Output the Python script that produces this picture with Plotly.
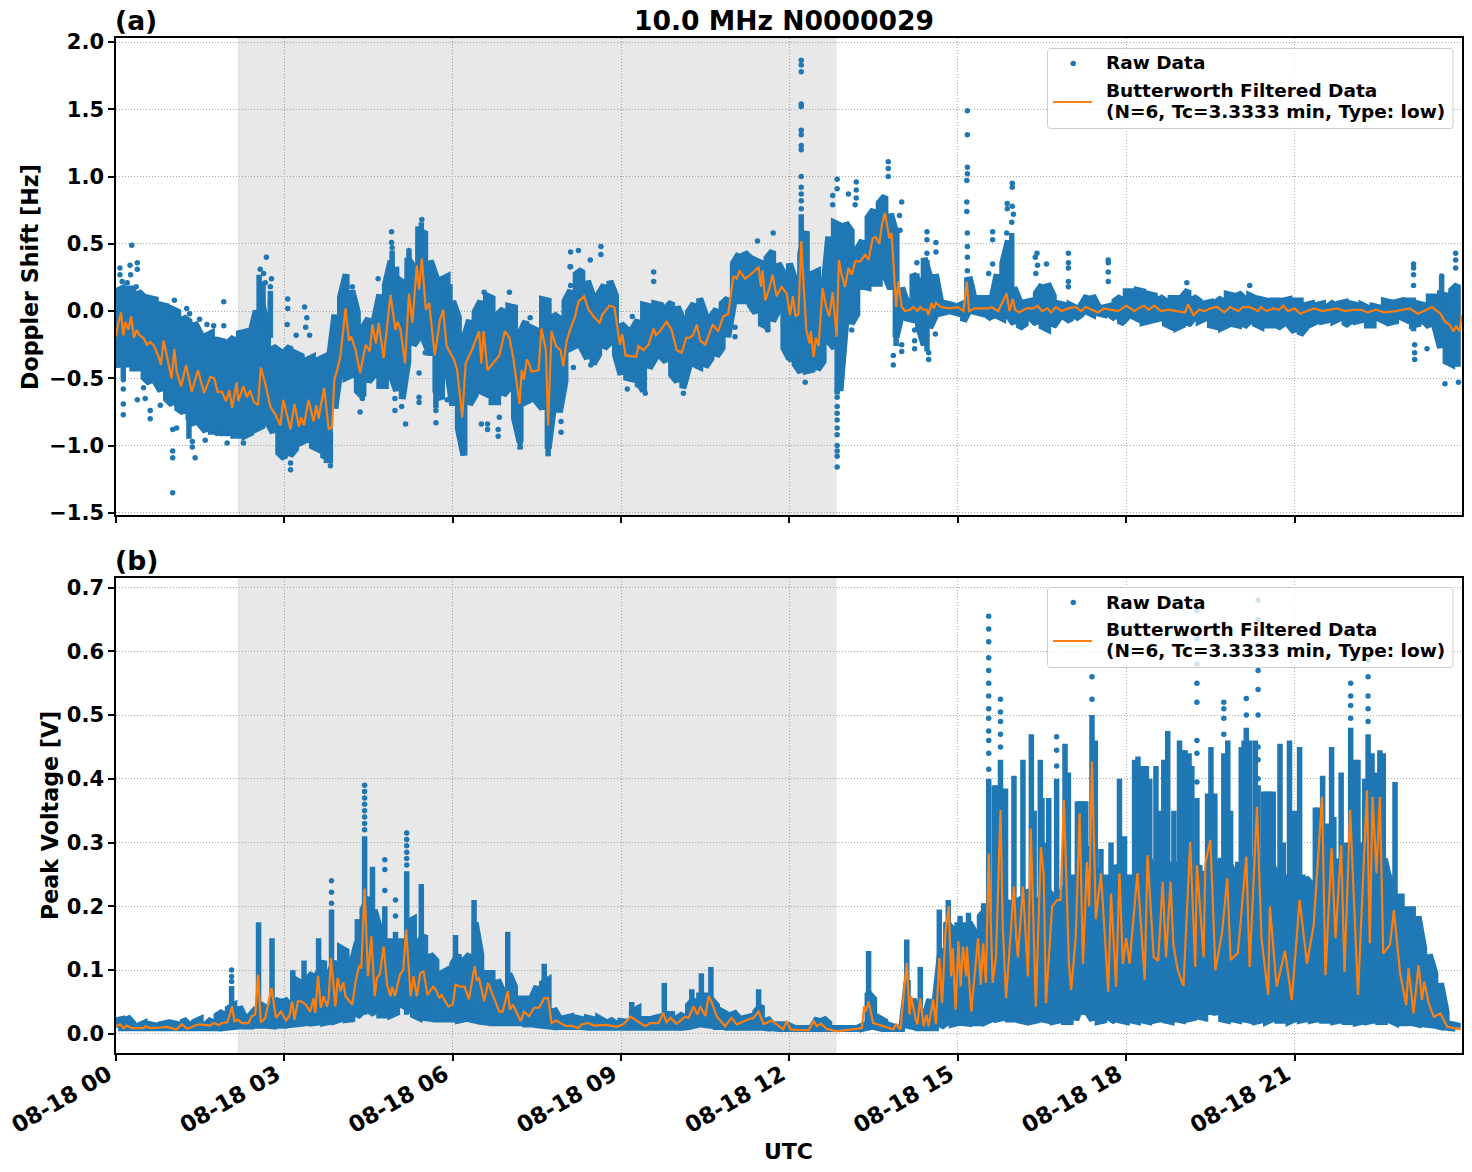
import pandas as pd
import plotly.graph_objects as go

DAY = "2023-08-18"
BLUE = "#1f77b4"
ORANGE = "#ff7f0e"
FONT = "DejaVu Sans"
NIGHT_START = 2.174
NIGHT_END = 12.83
TITLE = "10.0 MHz N0000029"
RAW_NAME = "Raw Data"
FILT_LINE_1 = "Butterworth Filtered Data"
FILT_LINE_2 = "(N=6, Tc=3.3333 min, Type: low)"

# Doppler shift: spread of the raw samples per 6 minute bin, from 00:00
DOPPLER_HI = [
    .17,.19,.19,.19,.17,.13,.12,.11,.07,.06,
    .04,.02,-.02,-.05,-.06,-.14,-.16,-.14,-.19,-.20,
    -.21,-.17,-.14,-.13,-.14,.03,.08,-.08,-.24,-.27,
    -.28,-.24,-.29,-.31,-.34,-.32,-.34,-.32,-.34,.00,
    .13,.30,.18,.02,-.10,-.03,-.05,.15,.22,.40,
    .27,.24,.42,.35,.58,.62,.40,.28,.26,.28,
    .10,-.02,-.18,-.04,.02,.10,.14,.12,.00,.04,
    .06,.05,-.14,-.05,-.10,-.12,.11,.10,.00,-.03,
    .10,.18,.30,.33,.25,.13,.15,.22,.25,.14,
    -.07,-.11,-.11,-.04,.07,.06,.08,.07,.05,.09,
    .06,-.04,.02,.08,.12,.00,-.02,.04,.08,.12,
    .38,.45,.46,.42,.40,.38,.42,.47,.38,.30,
    .38,.25,.45,.62,.30,.32,.15,.58,.68,.66,
    .68,.62,.48,.55,.72,.78,.83,.88,.75,.60,
    .20,.08,.30,.25,.42,.28,.30,.08,.08,.07,
    .06,.08,.28,.10,.12,.12,.10,.30,.38,.55,
    .20,.10,.09,.10,.16,.22,.23,.14,.08,.07,
    .07,.05,.07,.14,.14,.06,.05,.06,.10,.13,
    .17,.17,.18,.17,.15,.14,.13,.10,.12,.12,
    .13,.18,.13,.10,.08,.09,.09,.12,.15,.14,
    .16,.12,.14,.12,.11,.10,.10,.10,.10,.11,
    .10,.10,.07,.08,.07,.08,.06,.09,.08,.09,
    .08,.07,.07,.05,.06,.05,.10,.09,.09,.10,
    .10,.10,.08,.07,.13,.13,.15,.14,.18,.22,
]
DOPPLER_LO = [
    -.45,-.42,-.42,-.45,-.45,-.52,-.56,-.55,-.62,-.68,
    -.72,-.75,-.78,-.82,-.87,-.87,-.92,-.92,-.92,-.93,
    -.93,-.95,-.95,-.95,-.93,-.90,-.88,-.85,-.93,-1.08,
    -1.12,-1.10,-1.05,-1.00,-.98,-1.03,-1.05,-1.10,-1.12,-.75,
    -.44,-.52,-.50,-.62,-.66,-.55,-.50,-.58,-.58,-.50,
    -.62,-.68,-.40,-.28,-.22,-.25,-.35,-.62,-.68,-.45,
    -.73,-.90,-1.10,-.72,-.65,-.62,-.64,-.70,-.70,-.65,
    -.60,-.82,-1.00,-.70,-.68,-.70,-.75,-1.05,-.72,-.78,
    -.55,-.30,-.28,-.30,-.38,-.42,-.35,-.30,-.26,-.35,
    -.50,-.52,-.53,-.55,-.62,-.45,-.38,-.36,-.40,-.50,
    -.55,-.60,-.45,-.42,-.44,-.44,-.38,-.36,-.30,-.22,
    .02,.05,.05,.02,-.04,-.12,-.14,-.10,-.02,-.30,
    -.38,-.42,-.48,-.47,-.46,-.46,-.40,-.25,-.30,-.62,
    -.12,-.12,-.05,.16,.15,.18,.18,.24,.14,-.22,
    -.04,-.08,-.09,-.14,-.28,-.15,-.06,-.04,-.03,-.03,
    -.04,-.10,-.02,-.03,-.04,-.05,-.08,-.06,-.08,-.06,
    -.12,-.15,-.12,-.08,-.12,-.14,-.16,-.14,-.08,-.07,
    -.10,-.08,-.05,-.03,-.05,-.04,-.05,-.05,-.08,-.12,
    -.08,-.06,-.08,-.11,-.10,-.09,-.08,-.12,-.14,-.15,
    -.13,-.13,-.08,-.10,-.08,-.13,-.14,-.15,-.13,-.12,
    -.13,-.14,-.10,-.12,-.14,-.13,-.13,-.15,-.12,-.13,
    -.18,-.20,-.15,-.12,-.10,-.10,-.09,-.10,-.08,-.13,
    -.10,-.10,-.09,-.13,-.13,-.08,-.10,-.11,-.10,-.07,
    -.09,-.13,-.12,-.10,-.14,-.14,-.30,-.40,-.42,-.44,
]

# Short Doppler excursions that stick out of the spread
FINGER_T = [
    .13,1.30,2.55,2.62,2.75,3.75,3.82,4.92,5.00,5.22,5.38,5.44,5.50,5.70,5.95,7.20,7.70,
    12.21,12.85,13.90,14.27,14.45,14.45,15.16,15.88,15.96,23.12,23.62,
]
FINGER_FROM = [
    -.40,-.80,-.10,-.10,-.20,-.90,-.90,-.10,-.10,.00,.10,.10,.00,-.50,-.20,-.70,-.70,
    -.10,-.20,-.10,.00,.00,-.10,.00,.00,.00,-.10,.00,
]
FINGER_TO = [
    -.50,-.95,.27,.22,.15,-1.13,-1.13,.45,.33,.44,.63,.66,.58,-.72,.20,-1.03,-1.08,
    .72,-.62,-.26,.28,.38,-.30,.25,.50,.58,-.15,.26,
]

# Isolated Doppler samples outside the main spread
DOPPLER_OUT_T = [
    .07,.07,.11,.25,.26,.28,.38,.38,.20,.36,.13,.13,.13,.13,.49,.52,.38,.61,.61,.79,
    1.04,1.10,1.26,1.31,1.49,1.62,1.74,1.92,1.92,1.01,1.01,1.01,1.01,1.08,1.36,1.36,1.41,1.59,1.80,1.98,
    2.27,2.68,2.57,2.63,2.77,2.66,2.75,2.60,2.75,3.06,3.06,3.36,3.05,3.40,3.38,3.45,3.21,3.82,3.11,3.11,
    4.35,4.39,4.67,4.21,4.91,4.91,4.92,5.22,5.45,5.40,5.40,5.40,4.97,4.97,5.09,5.16,5.51,5.70,5.70,5.90,
    6.51,6.62,6.62,6.81,6.81,6.83,7.01,7.38,6.56,7.93,7.93,8.10,8.10,8.10,
    8.24,8.64,8.64,8.45,8.09,9.58,9.58,9.20,9.11,9.29,9.43,10.11,11.03,11.03,11.71,11.43,12.28,11.61,12.01,12.10,8.46,8.15,
    12.21,12.21,12.21,12.21,12.21,12.21,12.21,12.21,12.21,12.21,12.21,12.21,12.21,12.21,
    12.85,12.85,12.85,12.85,12.85,12.85,12.85,12.85,12.85,12.85,12.85,12.85,12.85,
    12.77,12.77,13.05,13.19,13.19,13.19,13.17,13.76,13.76,13.76,14.00,13.96,13.97,13.85,13.85,14.00,14.00,
    14.23,14.23,14.23,14.36,14.45,14.45,14.61,14.61,14.27,14.45,14.48,14.48,14.60,12.98,13.11,
    15.17,15.17,15.17,15.17,15.16,15.16,15.16,15.17,15.17,15.17,15.17,15.62,15.62,15.62,15.55,
    15.88,15.88,15.97,15.97,15.97,15.99,15.96,15.87,15.96,15.87,
    16.41,16.38,16.42,16.39,16.58,16.97,16.97,16.97,16.97,16.97,17.68,17.68,17.68,17.68,19.08,20.20,
    23.12,23.12,23.12,23.12,23.14,23.14,23.14,23.36,23.62,23.87,23.87,23.87,23.68,23.92,
]
DOPPLER_OUT_V = [
    .32,.27,.22,.34,.27,.49,.36,.31,.21,.18,-.51,-.58,-.69,-.77,-.57,-.65,-.66,-.74,-.80,-.70,
    .08,-.04,.02,-.02,-.06,-.10,-.11,.07,-.11,-.88,-1.04,-1.09,-1.35,-.87,-.97,-1.01,-1.09,-.96,-.91,-.98,
    -.98,.40,.31,.28,.24,.21,.18,.09,.06,.09,.02,.03,-.10,-.05,-.12,-.18,-.18,-1.15,-1.13,-1.18,
    -.75,-.65,.24,.18,.59,.51,.47,.45,.68,-.46,-.64,-.68,-.65,-.74,-.71,-.84,-.31,-.83,-.74,-.66,
    -.84,-.84,-.88,-.88,-.93,-.79,.14,-.05,.14,-.90,-.82,.44,.33,.19,
    .45,.48,.42,.38,.33,.29,.22,-.04,-.58,-.55,-.61,-.61,-.12,-.19,.58,.52,-.53,-.14,-.36,-.36,-.40,-.42,
    1.865,1.83,1.78,1.54,1.52,1.345,1.31,1.23,1.20,1.00,.92,.87,.82,.76,
    .98,.91,-.59,-.64,-.71,-.76,-.81,-.87,-.92,-1.00,-1.04,-1.08,-1.16,
    .86,.79,.87,.96,.90,.84,.79,1.11,1.06,1.00,.81,.71,.60,-.33,-.40,-.25,-.30,
    -.14,-.22,-.28,-.18,.59,.53,.51,.44,.36,.43,-.36,-.31,-.17,-.15,-.14,
    1.49,1.31,1.07,1.02,.97,.81,.74,.58,.48,.40,.30,.59,.53,.35,.28,
    .80,.76,.95,.92,.78,.72,.66,.58,.50,.40,
    .43,.40,.34,.28,.35,.43,.36,.32,.22,.18,.38,.36,.29,.22,.21,.19,
    .35,.32,.27,.19,-.25,-.31,-.36,-.28,.26,.43,.38,.32,-.54,-.53,
]

# Low-pass filtered Doppler shift
DOPPLER_FILT_T = [
    0,.04,.09,.13,.17,.22,.27,.32,.37,.42,.49,.55,.61,.68,.76,.80,.85,.92,.99,1.04,1.08,1.16,1.25,1.35,1.46,1.57,1.68,1.75,1.81,1.89,1.96,
    2.02,2.07,2.15,2.18,2.27,2.33,2.39,2.45,2.53,2.58,2.66,2.75,2.84,2.93,2.98,3.05,3.11,3.18,3.26,3.30,3.35,3.43,3.52,3.57,3.61,3.65,3.71,3.79,3.85,3.89,3.94,
    4.00,4.09,4.15,4.19,4.27,4.35,4.45,4.52,4.57,4.63,4.68,4.77,4.89,4.98,5.02,5.07,5.15,5.22,5.28,5.36,5.40,5.45,5.52,5.58,5.68,5.77,5.83,5.89,
    6.02,6.08,6.17,6.23,6.35,6.47,6.51,6.55,6.62,6.71,6.83,6.93,7.01,7.08,7.14,7.19,7.23,7.27,7.32,7.36,7.40,7.53,7.58,7.66,7.70,7.76,7.84,7.92,7.97,
    8.03,8.09,8.18,8.24,8.34,8.42,8.51,8.62,8.66,8.79,8.88,8.98,9.02,9.08,9.27,9.31,9.40,9.49,9.58,9.62,9.69,9.81,9.90,9.99,
    10.08,10.16,10.21,10.28,10.35,10.41,10.50,10.56,10.63,10.73,10.82,10.91,11.00,11.06,11.11,11.21,11.27,11.36,11.45,11.49,11.52,11.57,11.64,11.70,11.77,11.86,11.95,
    12.01,12.06,12.11,12.16,12.21,12.25,12.30,12.36,12.38,12.43,12.47,12.52,12.59,12.66,12.71,12.77,12.84,12.88,12.93,12.99,13.05,13.11,13.17,13.26,13.35,13.41,13.48,13.54,13.60,13.65,13.70,13.78,13.82,13.90,13.94,
    14.00,14.06,14.15,14.21,14.28,14.33,14.38,14.44,14.48,14.53,14.57,14.61,14.70,14.85,15.00,15.10,15.16,15.20,15.30,15.55,15.60,15.72,15.87,15.92,15.98,16.02,16.10,
    16.22,16.35,16.42,16.50,16.60,16.66,16.75,16.85,16.97,17.10,17.20,17.28,17.40,17.50,17.60,17.72,17.85,18.00,18.15,18.22,18.32,18.40,18.50,18.62,18.75,18.90,19.05,19.10,19.20,19.30,19.40,19.50,19.62,
    19.75,19.85,20.00,20.08,20.20,20.35,20.40,20.50,20.62,20.72,20.80,20.88,21.00,21.10,21.22,21.35,21.50,21.62,21.75,21.90,22.05,22.18,22.30,22.45,22.60,22.80,22.92,23.05,23.20,23.35,23.45,23.60,23.68,23.76,23.83,23.88,23.94,23.98,
]
DOPPLER_FILT_V = [
    -.19,-.09,-.01,-.18,-.08,-.14,-.04,-.20,-.14,-.18,-.20,-.25,-.23,-.26,-.34,-.40,-.22,-.35,-.50,-.28,-.45,-.56,-.40,-.60,-.44,-.61,-.49,-.50,-.60,-.60,-.67,
    -.59,-.72,-.53,-.67,-.56,-.64,-.59,-.67,-.70,-.42,-.54,-.71,-.77,-.85,-.66,-.79,-.88,-.69,-.86,-.79,-.85,-.66,-.82,-.70,-.80,-.70,-.57,-.88,-.86,-.51,-.44,
    -.33,.02,-.22,-.19,-.29,-.46,-.25,-.30,-.10,-.24,-.09,-.35,.12,-.14,-.08,-.14,-.39,.13,-.09,.34,.16,.39,.01,.06,-.33,-.07,.01,-.26,
    -.36,-.44,-.79,-.39,-.28,-.15,-.39,-.15,-.44,-.39,-.33,-.15,-.20,-.35,-.54,-.69,-.44,-.51,-.36,-.39,-.45,-.44,-.13,-.29,-.85,-.15,-.26,-.29,-.41,
    -.22,-.14,-.04,.07,.11,.01,-.04,-.09,-.03,.04,.03,-.25,-.17,-.33,-.34,-.26,-.29,-.25,-.13,-.18,-.15,-.08,-.14,-.29,
    -.31,-.20,-.20,-.18,-.10,-.22,-.25,-.18,-.10,-.15,-.04,-.02,.26,.24,.30,.24,.26,.29,.33,.18,.30,.08,.17,.27,.11,.18,.13,
    -.03,.11,-.04,-.02,.52,.21,-.14,-.24,-.15,-.34,-.20,-.26,.17,.02,-.04,.14,-.19,.38,.27,.18,.32,.27,.37,.37,.42,.38,.54,.55,.50,.65,.73,.54,.58,.03,.22,
    .03,.00,.01,.03,.00,.03,.01,.01,-.03,.06,.02,.06,.03,.02,.03,.00,.22,.00,.02,.02,.03,.00,.13,.00,.09,.01,-.01,
    .02,.02,.04,.00,.02,-.01,.03,.00,.02,.03,.00,.03,.01,-.01,.02,.01,.00,.04,.00,.02,.04,.01,.04,.00,.01,.00,-.01,.05,-.03,.01,.00,.02,.03,
    -.01,.03,.00,.03,.03,.00,.03,.00,.02,.01,.04,.00,.02,-.02,.00,.02,.00,.01,.02,.00,.01,.01,-.01,.01,-.01,.00,.01,.02,-.02,.01,.03,-.02,-.08,-.10,-.15,-.11,-.15,-.03,
]

# Peak voltage: spread of the raw samples per 6 minute bin, from 00:00
VOLTAGE_HI = [
    .026,.028,.032,.022,.018,.022,.020,.018,.020,.022,
    .022,.020,.028,.020,.024,.028,.020,.028,.034,.040,
    .045,.050,.048,.030,.035,.045,.050,.045,.050,.060,
    .060,.050,.090,.085,.090,.100,.100,.120,.100,.120,
    .140,.135,.115,.150,.200,.220,.200,.170,.150,.150,
    .150,.150,.180,.185,.150,.160,.130,.120,.100,.105,
    .115,.130,.120,.130,.180,.130,.100,.100,.090,.070,
    .100,.080,.060,.060,.060,.080,.085,.090,.045,.030,
    .030,.032,.030,.028,.030,.028,.030,.025,.028,.022,
    .025,.024,.040,.045,.028,.028,.030,.032,.036,.036,
    .030,.036,.050,.060,.065,.065,.060,.050,.040,.035,
    .040,.030,.030,.032,.040,.050,.030,.020,.020,.020,
    .018,.014,.014,.014,.016,.030,.030,.022,.012,.012,
    .012,.012,.014,.018,.070,.060,.030,.025,.018,.015,
    .012,.090,.060,.040,.030,.060,.060,.140,.180,.170,
    .175,.175,.180,.165,.190,.200,.190,.190,.200,.215,
    .210,.215,.230,.220,.210,.220,.230,.220,.220,.235,
    .250,.250,.280,.300,.280,.250,.250,.250,.270,.250,
    .250,.250,.260,.260,.280,.260,.270,.270,.270,.270,
    .260,.270,.250,.270,.260,.250,.260,.280,.280,.260,
    .270,.270,.280,.270,.280,.270,.270,.250,.250,.250,
    .260,.240,.250,.240,.250,.250,.270,.280,.280,.260,
    .270,.260,.300,.300,.290,.290,.280,.240,.220,.220,
    .200,.200,.190,.140,.130,.100,.085,.040,.020,.018,
]
VOLTAGE_LO = [
    .004,.004,.004,.004,.004,.004,.004,.004,.004,.004,
    .004,.004,.004,.004,.004,.004,.004,.004,.004,.004,
    .005,.006,.007,.007,.007,.008,.008,.008,.007,.008,
    .008,.009,.010,.011,.012,.012,.013,.012,.014,.015,
    .018,.017,.018,.022,.030,.032,.026,.024,.024,.024,
    .028,.040,.035,.024,.020,.020,.019,.018,.018,.018,
    .018,.016,.018,.018,.016,.014,.013,.012,.012,.012,
    .012,.012,.012,.010,.010,.009,.008,.007,.006,.006,
    .006,.006,.006,.006,.005,.005,.005,.005,.005,.005,
    .005,.005,.005,.005,.005,.005,.005,.005,.005,.005,
    .005,.005,.006,.008,.010,.009,.008,.006,.006,.005,
    .005,.005,.005,.005,.005,.005,.004,.004,.003,.003,
    .003,.003,.003,.003,.003,.003,.003,.003,.003,.003,
    .003,.003,.003,.003,.005,.006,.004,.003,.003,.003,
    .003,.008,.006,.004,.004,.004,.004,.006,.012,.010,
    .012,.012,.011,.012,.012,.014,.018,.018,.020,.018,
    .018,.016,.014,.014,.016,.018,.016,.014,.016,.014,
    .014,.016,.040,.030,.016,.014,.016,.020,.014,.016,
    .014,.016,.014,.016,.014,.016,.018,.016,.014,.018,
    .016,.018,.020,.022,.020,.060,.024,.018,.016,.018,
    .016,.018,.016,.014,.016,.014,.018,.016,.016,.014,
    .018,.016,.018,.016,.018,.016,.016,.014,.016,.014,
    .014,.012,.014,.014,.016,.014,.014,.016,.012,.012,
    .012,.012,.010,.010,.009,.008,.006,.005,.004,.004,
]

# Narrow bursts that stand above the voltage spread
BURST_T = [
    2.06,2.54,2.78,3.15,3.35,3.61,3.84,4.30,4.43,4.57,4.79,4.98,5.18,5.44,6.05,6.38,6.98,7.63,
    9.19,9.77,10.26,10.43,10.60,11.45,13.41,14.09,14.33,14.67,14.83,15.04,15.19,15.46,
    15.55,15.76,15.85,16.00,16.16,16.31,16.47,16.62,16.76,16.91,17.18,17.39,17.55,17.73,17.88,17.97,
    18.21,18.36,18.53,18.67,18.74,18.95,19.05,19.17,19.26,19.51,19.74,19.81,20.14,20.35,20.56,20.74,20.91,
    21.09,21.37,21.50,21.66,21.83,22.00,22.13,22.31,22.52,22.79,
    15.65,15.72,15.82,16.36,16.50,16.55,16.97,17.13,17.22,17.28,17.45,18.15,18.28,18.42,18.60,18.85,19.00,19.12,
    19.38,19.45,19.52,19.58,19.86,20.05,20.10,20.20,20.30,20.45,20.50,20.62,20.80,21.00,21.15,21.42,21.58,21.70,
    21.92,22.05,22.25,22.38,22.45,22.58,22.70,
]
BURST_TOP = [
    .075,.175,.150,.100,.115,.150,.195,.180,.310,.262,.200,.160,.255,.235,.155,.210,.160,.110,
    .050,.080,.070,.095,.105,.070,.130,.148,.105,.195,.210,.185,.190,.205,
    .400,.430,.385,.405,.430,.470,.430,.370,.400,.455,.365,.500,.290,.300,.400,.310,
    .435,.420,.420,.430,.475,.460,.445,.420,.370,.450,.440,.460,.480,.390,.380,.455,.460,
    .450,.355,.405,.450,.410,.480,.430,.470,.445,.395,
    .390,.390,.380,.350,.370,.300,.410,.365,.365,.365,.460,.430,.420,.400,.350,.350,.445,.440,
    .250,.377,.377,.377,.350,.450,.460,.460,.460,.380,.380,.380,.300,.350,.250,.355,.330,.340,
    .300,.430,.400,.440,.410,.440,.250,
]
BURST_FLOOR = .03

# Separate samples at the tips of the tallest voltage bursts
VOLTAGE_OUT_T = [
    2.06,2.06,2.06,3.84,3.84,3.84,4.43,4.43,4.43,4.43,4.43,4.43,4.43,4.43,4.79,4.79,4.79,4.98,4.98,
    5.18,5.18,5.18,5.18,5.18,5.18,
    15.55,15.55,15.55,15.55,15.55,15.55,15.55,15.55,15.55,15.55,15.55,15.55,15.55,15.76,15.76,15.76,15.76,15.76,
    16.76,16.76,16.76,17.39,17.39,
    19.26,19.26,19.26,19.26,19.26,19.26,19.26,19.26,19.74,19.74,19.74,19.74,
    20.14,20.14,20.35,20.35,20.35,20.35,20.35,20.35,20.35,20.35,20.35,
    22.00,22.00,22.00,22.00,22.31,22.31,22.31,22.31,22.31,
]
VOLTAGE_OUT_V = [
    .082,.090,.100,.205,.222,.240,.320,.330,.340,.350,.360,.370,.380,.390,.225,.258,.273,.185,.210,
    .265,.275,.285,.295,.305,.315,
    .415,.440,.460,.475,.495,.510,.530,.550,.570,.590,.615,.635,.655,.450,.470,.490,.505,.525,
    .420,.445,.466,.525,.560,
    .395,.440,.460,.520,.550,.580,.620,.664,.470,.495,.510,.520,
    .500,.526,.400,.430,.450,.500,.540,.570,.610,.650,.680,
    .495,.515,.530,.550,.490,.510,.530,.560,.586,
]

# Low-pass filtered peak voltage
VOLTAGE_FILT_T = [
    0,.07,.14,.19,.28,.49,.52,.61,.79,.90,1.08,1.17,1.27,1.47,1.68,1.74,1.83,1.89,1.98,
    2.01,2.07,2.11,2.18,2.24,2.36,2.42,2.48,2.53,2.58,2.66,2.77,2.85,2.94,3.03,3.09,3.14,3.18,3.24,3.30,3.38,3.46,3.52,3.55,3.60,3.65,3.70,3.76,3.79,3.83,3.91,3.95,
    4.00,4.05,4.09,4.21,4.27,4.33,4.37,4.43,4.49,4.55,4.61,4.65,4.70,4.77,4.83,4.89,4.92,4.97,5.01,5.06,5.12,5.17,5.25,5.30,5.36,5.42,5.48,5.55,5.65,5.70,5.76,5.80,5.92,
    6.00,6.05,6.14,6.21,6.29,6.39,6.43,6.47,6.56,6.63,6.74,6.83,6.89,6.98,7.02,7.07,7.21,7.27,7.36,7.45,7.54,7.63,7.70,7.76,7.84,7.93,8.02,
    8.11,8.24,8.30,8.42,8.51,8.74,8.92,9.04,9.17,9.34,9.43,9.52,9.67,9.75,9.81,9.88,9.99,10.14,10.20,10.29,10.36,10.41,10.50,10.56,10.61,10.70,10.85,10.97,
    11.06,11.27,11.36,11.45,11.54,11.68,11.77,11.89,11.95,12.02,12.19,12.34,12.43,12.49,12.56,12.66,12.84,13.14,13.29,13.33,13.36,13.41,13.49,13.56,13.85,13.90,13.98,
    14.02,14.09,14.14,14.17,14.25,14.28,14.33,14.39,14.44,14.48,14.56,14.61,14.67,14.72,14.78,14.84,14.88,14.91,14.96,
    15.01,15.05,15.09,15.15,15.16,15.24,15.32,15.36,15.41,15.45,15.50,15.55,15.62,15.68,15.76,15.80,15.86,15.92,
    16.00,16.04,16.07,16.16,16.25,16.30,16.39,16.48,16.53,16.57,16.68,16.77,16.83,16.89,16.98,17.02,17.10,17.17,17.23,17.30,17.34,17.39,17.46,17.55,17.68,17.73,17.82,17.88,17.94,
    18.00,18.06,18.20,18.33,18.38,18.49,18.57,18.65,18.71,18.79,18.84,18.92,19.02,19.14,19.23,19.26,19.38,19.41,19.50,19.59,19.71,19.80,19.86,19.99,
    20.14,20.20,20.33,20.41,20.53,20.56,20.68,20.83,20.95,21.09,21.22,21.34,21.49,21.55,21.66,21.73,21.83,21.89,21.99,22.13,22.29,22.34,22.39,22.46,22.52,22.58,22.70,22.77,22.88,22.99,
    23.03,23.12,23.21,23.27,23.31,23.39,23.48,23.60,23.72,23.96,
]
VOLTAGE_FILT_V = [
    .012,.015,.009,.013,.009,.009,.012,.009,.010,.011,.007,.015,.008,.015,.013,.017,.014,.017,.018,
    .025,.043,.020,.022,.017,.017,.028,.030,.093,.018,.025,.072,.025,.035,.021,.028,.051,.022,.051,.051,.046,.035,.056,.033,.091,.041,.059,.043,.056,.119,.043,.088,
    .067,.081,.059,.046,.082,.106,.103,.228,.090,.153,.059,.088,.093,.137,.077,.059,.074,.059,.074,.093,.100,.164,.059,.090,.059,.095,.098,.061,.074,.069,.056,.061,.043,
    .046,.077,.074,.074,.054,.106,.085,.087,.051,.080,.054,.035,.035,.067,.038,.046,.020,.035,.028,.041,.041,.056,.056,.017,.021,.017,.012,
    .013,.009,.015,.017,.013,.014,.011,.015,.027,.017,.012,.017,.017,.033,.018,.025,.016,.027,.025,.043,.030,.043,.028,.059,.051,.028,.012,.025,
    .015,.023,.025,.035,.015,.021,.015,.007,.020,.007,.006,.006,.020,.012,.016,.008,.004,.008,.009,.043,.035,.051,.017,.015,.007,.015,.007,
    .048,.111,.030,.059,.022,.015,.056,.012,.030,.012,.054,.015,.119,.048,.160,.200,.090,.134,.038,
    .145,.074,.137,.090,.137,.035,.110,.150,.077,.142,.080,.283,.080,.120,.351,.170,.056,.137,
    .231,.150,.120,.231,.090,.322,.043,.293,.250,.048,.200,.210,.210,.367,.110,.069,.150,.346,.110,.270,.200,.427,.180,.252,.066,.220,.074,.252,.110,
    .150,.110,.252,.085,.280,.120,.115,.239,.120,.239,.140,.100,.075,.301,.105,.265,.120,.267,.304,.100,.160,.244,.116,.127,
    .278,.105,.356,.150,.061,.200,.074,.130,.053,.210,.110,.170,.372,.092,.291,.150,.296,.097,.351,.061,.382,.142,.372,.252,.372,.126,.140,.194,.095,.045,
    .103,.032,.108,.053,.082,.048,.027,.032,.011,.007,
]

DOPPLER_TICKS = [-1.5, -1.0, -0.5, 0.0, 0.5, 1.0, 1.5, 2.0]
VOLTAGE_TICKS = [0.0, 0.1, 0.2, 0.3, 0.4, 0.5, 0.6, 0.7]

W, H = 1472, 1172
DOPPLER_RANGE = [-1.516, 2.03]
VOLTAGE_RANGE = [-0.03, 0.715]


def stamp(hours):
    seconds = round(float(hours) * 3600)
    return pd.Timestamp(DAY) + pd.Timedelta(seconds=seconds)


def when(hours):
    return [stamp(h) for h in hours]


def spread_path(lo, hi, inset):
    """Snake through the bins so the thick line paints the whole raw spread.

    The stroke reaches half its width past each end, so the ends are pulled in by inset.
    """
    xs, ys = [], []
    for i, (a, b) in enumerate(zip(lo, hi)):
        low = a + inset
        high = max(b - inset, low)
        pair = (low, high) if i % 2 == 0 else (high, low)
        xs += [i * 0.1, i * 0.1]
        ys += list(pair)
    return when(xs), ys


def columns(times, starts, ends):
    cx, cy = [], []
    for t, a, b in zip(times, starts, ends):
        cx += [stamp(t), stamp(t), None]
        cy += [a, b, None]
    return cx, cy


fig = go.Figure()


def add_panel(row, lo, hi, inset, col_t, col_from, col_to, out_t, out_v, filt_t, filt_v):
    xa, ya = ("x", "y") if row == 1 else ("x2", "y2")
    px, py = spread_path(lo, hi, inset)
    fig.add_trace(go.Scatter(x=px, y=py, xaxis=xa, yaxis=ya, mode="lines", showlegend=False,
                             line=dict(color=BLUE, width=7), hoverinfo="skip"))
    bx, by = columns(col_t, col_from, col_to)
    fig.add_trace(go.Scatter(x=bx, y=by, xaxis=xa, yaxis=ya, mode="lines", showlegend=False,
                             line=dict(color=BLUE, width=5.5), hoverinfo="skip"))
    fig.add_trace(go.Scatter(x=when(out_t), y=out_v, xaxis=xa, yaxis=ya, mode="markers", name=RAW_NAME,
                             showlegend=False, marker=dict(color=BLUE, size=5.5)))
    fig.add_trace(go.Scatter(x=when(filt_t), y=filt_v, xaxis=xa, yaxis=ya, mode="lines",
                             name=f"{FILT_LINE_1} {FILT_LINE_2}", showlegend=False,
                             line=dict(color=ORANGE, width=2.2)))


add_panel(1, DOPPLER_LO, DOPPLER_HI, 0.026, FINGER_T, FINGER_FROM, FINGER_TO,
          DOPPLER_OUT_T, DOPPLER_OUT_V, DOPPLER_FILT_T, DOPPLER_FILT_V)
add_panel(2, VOLTAGE_LO, VOLTAGE_HI, 0.0055, BURST_T, [BURST_FLOOR] * len(BURST_T), BURST_TOP,
          VOLTAGE_OUT_T, VOLTAGE_OUT_V, VOLTAGE_FILT_T, VOLTAGE_FILT_V)

bold = dict(family=FONT, color="black", weight=700)
axis_common = dict(showline=True, linecolor="black", linewidth=1.5, mirror=True, ticks="outside",
                   ticklen=6, tickwidth=1.5, tickcolor="black", showgrid=True, gridcolor="#aaaaaa",
                   gridwidth=1, griddash="1px,2px", zeroline=False, automargin=False)
x_common = dict(type="date", range=[f"{DAY} 00:00", f"{DAY} 23:59"], tickmode="linear",
                tick0=f"{DAY} 00:00", dtick=3 * 3600 * 1000, domain=[116 / W, 1462 / W], **axis_common)

fig.update_layout(
    width=W, height=H, margin=dict(l=0, r=0, t=0, b=0), paper_bgcolor="white", plot_bgcolor="white",
    showlegend=False,
    xaxis=dict(anchor="y", showticklabels=False, **x_common),
    xaxis2=dict(anchor="y2", tickformat="%m-%d %H", tickangle=-30, tickfont=dict(size=22.5, **bold),
                ticklabelstandoff=-8, ticklabelshift=-8, **x_common),
    yaxis=dict(domain=[1 - 515 / H, 1 - 38 / H], range=DOPPLER_RANGE, tickmode="array", tickvals=DOPPLER_TICKS,
               tickformat=".1f", tickfont=dict(size=21, **bold), **axis_common),
    yaxis2=dict(domain=[1 - 1053 / H, 1 - 578 / H], range=VOLTAGE_RANGE, tickmode="array", tickvals=VOLTAGE_TICKS,
                tickformat=".1f", tickfont=dict(size=21, **bold), **axis_common),
)

# Shaded night interval behind the samples, on both panels
for xr, yr, span in (("x", "y", DOPPLER_RANGE), ("x2", "y2", VOLTAGE_RANGE)):
    fig.add_shape(type="rect", xref=xr, yref=yr, y0=span[0], y1=span[1],
                  x0=stamp(NIGHT_START), x1=stamp(NIGHT_END),
                  fillcolor="rgba(128,128,128,0.18)", line=dict(color="rgba(128,128,128,0.12)", width=1), layer="between")


def text(label, x, y, size, xanchor="center", yanchor="middle", angle=0):
    fig.add_annotation(text=label, x=x / W, y=1 - y / H, xref="paper", yref="paper", showarrow=False,
                       font=dict(size=size, **bold), xanchor=xanchor, yanchor=yanchor, textangle=angle, align="center")


def paper_shape(**kw):
    fig.add_shape(xref="paper", yref="paper", layer="above", **kw)


def legend_box(dy):
    """Key with the marker, the line sample and the three text rows, offset down by dy pixels."""
    x0, x1 = 1047.5 / W, 1453 / W
    y0, y1 = 1 - (48.5 + dy) / H, 1 - (128.5 + dy) / H
    rx, ry = 3 / W, 3 / H
    path = (f"M{x0 + rx},{y0} L{x1 - rx},{y0} Q{x1},{y0} {x1},{y0 - ry} L{x1},{y1 + ry} Q{x1},{y1} {x1 - rx},{y1} "
            f"L{x0 + rx},{y1} Q{x0},{y1} {x0},{y1 + ry} L{x0},{y0 - ry} Q{x0},{y0} {x0 + rx},{y0} Z")
    paper_shape(type="path", path=path, fillcolor="rgba(255,255,255,0.8)", line=dict(color="#cccccc", width=1))
    paper_shape(type="circle", x0=1070.5 / W, x1=1076 / W, y0=1 - (66.2 + dy) / H, y1=1 - (60.8 + dy) / H,
                fillcolor=BLUE, line=dict(width=0))
    paper_shape(type="line", x0=1053 / W, x1=1092 / W, y0=1 - (102 + dy) / H, y1=1 - (102 + dy) / H,
                line=dict(color=ORANGE, width=2))
    text(RAW_NAME, 1104, 63 + dy, 18.5, xanchor="left")
    text(FILT_LINE_1, 1104, 90 + dy, 18.5, xanchor="left")
    text(FILT_LINE_2, 1104, 111 + dy, 18.5, xanchor="left")


legend_box(0)
legend_box(539)

text(TITLE, 784, 21, 26.6)
text("(a)", 113, 21, 26.6, xanchor="left")
text("(b)", 113, 560, 26.6, xanchor="left")
text("UTC", 789, 1151, 22)
text("Doppler Shift [Hz]", 30, 277, 22.2, angle=-90)
text("Peak Voltage [V]", 50, 816, 22.2, angle=-90)

fig.write_html("out.html")
